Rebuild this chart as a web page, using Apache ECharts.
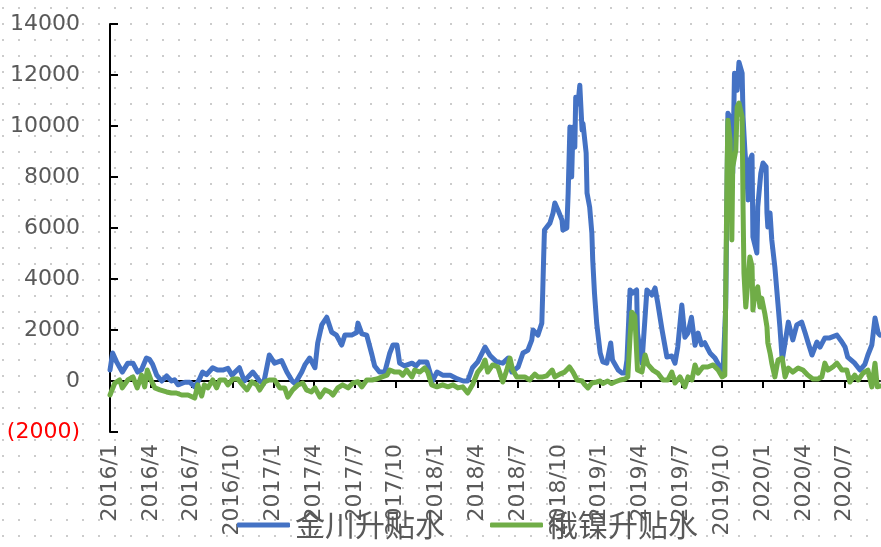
<!DOCTYPE html>
<html>
<head>
<meta charset="utf-8">
<script src="https://cdn.jsdelivr.net/npm/echarts@6/dist/echarts.min.js"></script>
<style>
html, body { margin: 0; padding: 0; background: #fff; }
#chart {
  width: 881px;
  height: 547px;
  background-image: radial-gradient(circle, #cccccc 1px, transparent 1.4px);
  background-size: 16px 16px;
  background-position: -5px 0px;
}
</style>
</head>
<body>
<div id="chart"></div>
<script>
const seriesNames = ['金川升贴水', '俄镍升贴水']

const tickLabels = [
  '2016/1', '2016/4', '2016/7', '2016/10',
  '2017/1', '2017/4', '2017/7', '2017/10',
  '2018/1', '2018/4', '2018/7', '2018/10',
  '2019/1', '2019/4', '2019/7', '2019/10',
  '2020/1', '2020/4', '2020/7'
]

const blueDates = [
  '2016-01-01', '2016-01-07', '2016-01-16', '2016-01-29', '2016-02-10', '2016-02-21', '2016-03-02', '2016-03-11',
  '2016-03-22', '2016-03-29', '2016-04-05', '2016-04-14', '2016-04-25', '2016-05-06', '2016-05-17', '2016-05-24',
  '2016-06-01', '2016-06-16', '2016-06-27', '2016-07-08', '2016-07-19', '2016-07-26', '2016-08-04', '2016-08-18',
  '2016-08-29', '2016-09-10', '2016-09-21', '2016-09-30', '2016-10-17', '2016-10-28', '2016-11-16', '2016-12-01',
  '2016-12-10', '2016-12-23', '2017-01-04', '2017-01-20', '2017-02-01', '2017-02-12', '2017-02-18', '2017-03-04',
  '2017-03-11', '2017-03-22', '2017-04-03', '2017-04-09', '2017-04-18', '2017-04-29', '2017-05-10', '2017-05-21',
  '2017-06-02', '2017-06-09', '2017-06-24', '2017-07-05', '2017-07-08', '2017-07-17', '2017-07-28', '2017-08-09',
  '2017-08-15', '2017-08-26', '2017-09-07', '2017-09-18', '2017-09-25', '2017-10-04', '2017-10-10', '2017-10-21',
  '2017-11-07', '2017-11-16', '2017-11-24', '2017-12-10', '2017-12-23', '2018-01-02', '2018-01-15', '2018-02-01',
  '2018-02-16', '2018-02-28', '2018-03-10', '2018-03-21', '2018-04-02', '2018-04-18', '2018-04-29', '2018-05-14',
  '2018-05-28', '2018-06-09', '2018-06-17', '2018-07-01', '2018-07-12', '2018-07-23', '2018-08-01', '2018-08-04',
  '2018-08-15', '2018-08-24', '2018-08-26', '2018-08-28', '2018-08-30', '2018-09-11', '2018-09-18', '2018-09-22',
  '2018-09-29', '2018-10-08', '2018-10-10', '2018-10-19', '2018-10-22', '2018-10-26', '2018-10-30', '2018-11-02',
  '2018-11-06', '2018-11-08', '2018-11-13', '2018-11-17', '2018-11-22', '2018-11-24', '2018-12-01', '2018-12-03',
  '2018-12-09', '2018-12-14', '2018-12-16', '2018-12-20', '2018-12-25', '2019-01-02', '2019-01-08', '2019-01-17',
  '2019-01-26', '2019-01-30', '2019-02-11', '2019-02-19', '2019-02-25', '2019-03-01', '2019-03-08', '2019-03-14',
  '2019-03-23', '2019-03-25', '2019-04-04', '2019-04-15', '2019-04-26', '2019-05-03', '2019-05-09', '2019-05-19',
  '2019-05-30', '2019-06-10', '2019-06-17', '2019-06-23', '2019-07-02', '2019-07-09', '2019-07-16', '2019-07-24',
  '2019-08-01', '2019-08-08', '2019-08-16', '2019-08-23', '2019-09-04', '2019-09-15', '2019-09-26', '2019-10-03',
  '2019-10-09', '2019-10-14', '2019-10-23', '2019-10-25', '2019-10-29', '2019-11-04', '2019-11-08', '2019-11-15',
  '2019-11-17', '2019-11-21', '2019-11-26', '2019-11-28', '2019-12-02', '2019-12-07', '2019-12-09', '2019-12-18',
  '2019-12-20', '2019-12-27', '2020-01-01', '2020-01-08', '2020-01-10', '2020-01-12', '2020-01-17', '2020-01-21',
  '2020-01-28', '2020-02-04', '2020-02-08', '2020-02-13', '2020-02-19', '2020-02-26', '2020-03-07', '2020-03-16',
  '2020-03-27', '2020-04-04', '2020-04-10', '2020-04-19', '2020-04-30', '2020-05-07', '2020-05-18', '2020-05-29',
  '2020-06-14', '2020-06-25', '2020-07-02', '2020-07-08', '2020-07-24', '2020-08-05', '2020-08-16', '2020-08-23',
  '2020-09-01', '2020-09-08', '2020-09-15', '2020-09-19'
]
const blueValues = [
  430, 1100, 750, 350, 700, 700, 350, 450,
  900, 850, 650, 230, 0, 200, 0, 50,
  -150, -50, -50, -230, 80, 350, 250, 520,
  430, 430, 500, 230, 520, 0, 350, 0,
  -100, 1020, 700, 800, 350, 0, -100, 350,
  630, 900, 520, 1490, 2200, 2500, 1920, 1800,
  1410, 1800, 1800, 1900, 2270, 1850, 1800, 1020,
  590, 350, 350, 1100, 1410, 1410, 700, 590,
  700, 590, 750, 750, 0, 350, 230, 230,
  80, 0, 0, 520, 750, 1330, 1000, 750,
  700, 900, 350, 550, 1100, 1200, 1600, 2000,
  1800, 2270, 3450, 4740, 5920, 6190, 6590, 6980,
  6700, 6310, 5920, 6000, 7370, 9960, 8000, 9960,
  9170, 11130, 10870, 11600, 9840, 10100, 8940, 7370,
  6820, 5800, 4740, 3450, 2270, 1100, 750, 700,
  1490, 820, 430, 310, 310, 820, 3570, 3450,
  3570, 1880, 700, 3570, 3370, 3650, 3080, 2000,
  940, 980, 700, 1330, 2980, 1720, 1880, 2500,
  1400, 1880, 1420, 1500, 1100, 900, 550, 430,
  2900, 10500, 10230, 8150, 12070, 11400, 12500, 12070,
  10350, 9050, 7880, 7100, 8660, 8860, 5650, 5020,
  6820, 8150, 8550, 8400, 6590, 6040, 6590, 5530,
  4470, 3000, 2120, 820, 1500, 2310, 1610, 2200,
  2310, 1880, 1530, 1020, 1530, 1330, 1690, 1690,
  1800, 1530, 1330, 940, 700, 430, 650, 1020,
  1410, 2470, 1880, 1800
]

const greenDates = [
  '2016-01-01', '2016-01-12', '2016-01-23', '2016-01-29', '2016-02-10', '2016-02-21', '2016-03-01', '2016-03-11',
  '2016-03-18', '2016-03-24', '2016-04-03', '2016-04-10', '2016-04-21', '2016-05-06', '2016-05-17', '2016-05-28',
  '2016-06-09', '2016-06-23', '2016-07-08', '2016-07-15', '2016-07-24', '2016-07-30', '2016-08-07', '2016-08-18',
  '2016-08-27', '2016-09-03', '2016-09-14', '2016-09-21', '2016-10-02', '2016-10-13', '2016-10-24', '2016-11-03',
  '2016-11-14', '2016-11-25', '2016-12-01', '2016-12-13', '2016-12-23', '2017-01-04', '2017-01-16', '2017-01-27',
  '2017-02-03', '2017-02-13', '2017-02-24', '2017-03-06', '2017-03-15', '2017-03-26', '2017-04-03', '2017-04-14',
  '2017-04-25', '2017-05-06', '2017-05-13', '2017-05-24', '2017-06-04', '2017-06-16', '2017-06-27', '2017-07-08',
  '2017-07-17', '2017-07-28', '2017-08-09', '2017-08-20', '2017-09-01', '2017-09-12', '2017-09-18', '2017-09-29',
  '2017-10-10', '2017-10-17', '2017-10-26', '2017-11-07', '2017-11-13', '2017-11-24', '2017-12-05', '2017-12-12',
  '2017-12-21', '2018-01-02', '2018-01-15', '2018-01-27', '2018-02-07', '2018-02-17', '2018-02-27', '2018-03-10',
  '2018-03-21', '2018-04-02', '2018-04-11', '2018-04-18', '2018-04-24', '2018-05-05', '2018-05-17', '2018-05-21',
  '2018-05-28', '2018-06-06', '2018-06-13', '2018-06-19', '2018-06-28', '2018-07-16', '2018-07-27', '2018-08-08',
  '2018-08-15', '2018-08-26', '2018-09-04', '2018-09-16', '2018-09-22', '2018-10-03', '2018-10-14', '2018-10-25',
  '2018-11-02', '2018-11-11', '2018-11-22', '2018-11-28', '2018-12-05', '2018-12-14', '2018-12-25', '2019-01-02',
  '2019-01-08', '2019-01-19', '2019-01-28', '2019-02-04', '2019-02-15', '2019-02-25', '2019-03-03', '2019-03-08',
  '2019-03-12', '2019-03-19', '2019-03-25', '2019-04-04', '2019-04-11', '2019-04-17', '2019-04-28', '2019-05-09',
  '2019-05-21', '2019-06-01', '2019-06-10', '2019-06-17', '2019-06-28', '2019-07-09', '2019-07-16', '2019-07-25',
  '2019-08-01', '2019-08-08', '2019-08-19', '2019-08-30', '2019-09-11', '2019-09-22', '2019-10-01', '2019-10-07',
  '2019-10-12', '2019-10-14', '2019-10-19', '2019-10-23', '2019-10-25', '2019-11-01', '2019-11-04', '2019-11-08',
  '2019-11-15', '2019-11-17', '2019-11-19', '2019-11-23', '2019-11-28', '2019-12-02', '2019-12-07', '2019-12-09',
  '2019-12-14', '2019-12-20', '2019-12-25', '2019-12-29', '2020-01-05', '2020-01-10', '2020-01-12', '2020-01-17',
  '2020-01-21', '2020-01-28', '2020-02-04', '2020-02-13', '2020-02-19', '2020-02-26', '2020-03-07', '2020-03-19',
  '2020-03-30', '2020-04-10', '2020-04-21', '2020-05-02', '2020-05-11', '2020-05-18', '2020-05-25', '2020-06-05',
  '2020-06-14', '2020-06-25', '2020-07-06', '2020-07-13', '2020-07-24', '2020-08-01', '2020-08-12', '2020-08-23',
  '2020-09-01', '2020-09-08', '2020-09-13', '2020-09-19'
]
const greenValues = [
  -550, -80, 40, -270, 40, 160, -270, 230,
  -230, 430, -30, -270, -350, -430, -470, -470,
  -550, -550, -670, -150, -590, -150, -270, 40,
  -270, 40, 40, -150, 80, 80, -150, -350,
  -30, -150, -350, -30, 40, 40, -270, -270,
  -630, -350, -150, -80, -350, -430, -270, -630,
  -350, -430, -550, -270, -150, -270, -80, -30,
  -230, 40, 40, 80, 160, 230, 430, 350,
  350, 230, 430, 160, 430, 350, 510, 350,
  -150, -230, -150, -230, -150, -270, -230, -470,
  -150, 350, 550, 820, 350, 630, 550, 550,
  -40, 430, 900, 430, 160, 160, 40, 270,
  160, 160, 200, 430, 160, 270, 350, 550,
  350, 40, 0, -150, -270, -80, -40, 0,
  -100, 0, -100, -40, 40, 80, 160, 1720,
  2700, 2550, 430, 350, 1020, 650, 430, 310,
  40, 40, 350, -80, 160, -230, 160, 40,
  630, 310, 550, 550, 630, 430, 160, 230,
  8150, 10230, 9450, 5530, 8390, 9050, 10740, 10900,
  10350, 6820, 4230, 2900, 3960, 4860, 4500, 2780,
  3450, 3690, 2900, 3250, 2660, 2120, 1490, 1100,
  700, 160, 820, 900, 160, 510, 350, 510,
  430, 230, 80, 80, 160, 700, 430, 550,
  700, 430, 430, -40, 230, 40, 310, 430,
  -230, 700, -230, -200
]

const toMonth = s => {
  const [y, m, d] = s.split('-').map(Number)
  const days = new Date(y, m, 0).getDate()
  return (y - 2016) * 12 + (m - 1) + (d - 1) / days
}

const tickValues = tickLabels.map((_, i) => i * 3)
const font = '"DejaVu Sans", sans-serif'
const cjkFont = '"Noto Sans CJK SC", sans-serif'

// the x axis line does not show up on its own here, so the zero line and
// its ticks are drawn as a markLine underneath the series
const tickDepth = 275  // about 7px in y units
const zeroLine = {
  silent: true,
  z: 1,
  symbol: 'none',
  label: { show: false },
  lineStyle: { color: '#000000', width: 2, type: 'solid' },
  emphasis: { disabled: true },
  data: [
    [{ coord: [0, 0] }, { coord: [56.6, 0] }],
    ...tickValues.map(t => [{ coord: [t, 0] }, { coord: [t, -tickDepth] }])
  ]
}

const chart = echarts.init(document.getElementById('chart'))

chart.setOption({
  animation: false,
  grid: {
    left: 110,
    right: 1,
    top: 24,
    bottom: 115
  },
  legend: {
    data: seriesNames,
    left: 232,
    top: 505,
    icon: 'roundRect',
    itemWidth: 53,
    itemHeight: 5,
    itemGap: 45,
    textStyle: {
      fontSize: 30,
      color: '#595959',
      fontFamily: cjkFont
    }
  },
  xAxis: {
    type: 'value',
    min: 0,
    max: 56.6,
    interval: 3,
    splitLine: { show: false },
    axisLine: {
      show: true,
      onZero: true,
      lineStyle: { color: '#000000', width: 2 }
    },
    axisTick: {
      show: true,
      length: 7,
      lineStyle: { color: '#000000', width: 2 }
    },
    axisLabel: {
      rotate: 90,
      align: 'right',
      verticalAlign: 'middle',
      margin: 12,
      showMaxLabel: false,
      fontSize: 22,
      color: '#595959',
      fontFamily: font,
      formatter: v => v % 3 === 0 ? (tickLabels[v / 3] || '') : ''
    }
  },
  yAxis: {
    type: 'value',
    min: -2000,
    max: 14000,
    interval: 2000,
    splitLine: { show: false },
    axisLine: {
      show: true,
      lineStyle: { color: '#000000', width: 2 }
    },
    axisTick: {
      show: true,
      inside: true,
      length: 8,
      lineStyle: { color: '#000000', width: 2 }
    },
    axisLabel: {
      margin: 30,
      fontSize: 22,
      color: '#595959',
      fontFamily: font,
      formatter: v => v < 0 ? '{neg|(' + Math.abs(v) + ')}' : String(v),
      rich: {
        neg: { color: '#FF0000', fontSize: 22, fontFamily: font }
      }
    }
  },
  series: [
    {
      name: seriesNames[0],
      type: 'line',
      z: 3,
      data: blueDates.map((d, i) => [toMonth(d), blueValues[i]]),
      symbol: 'none',
      lineStyle: { color: '#4472C4', width: 5, join: 'round', cap: 'round' },
      itemStyle: { color: '#4472C4' },
      markLine: zeroLine
    },
    {
      name: seriesNames[1],
      type: 'line',
      z: 4,
      data: greenDates.map((d, i) => [toMonth(d), greenValues[i]]),
      symbol: 'none',
      lineStyle: { color: '#70AD47', width: 5, join: 'round', cap: 'round' },
      itemStyle: { color: '#70AD47' }
    }
  ]
})
</script>
</body>
</html>
